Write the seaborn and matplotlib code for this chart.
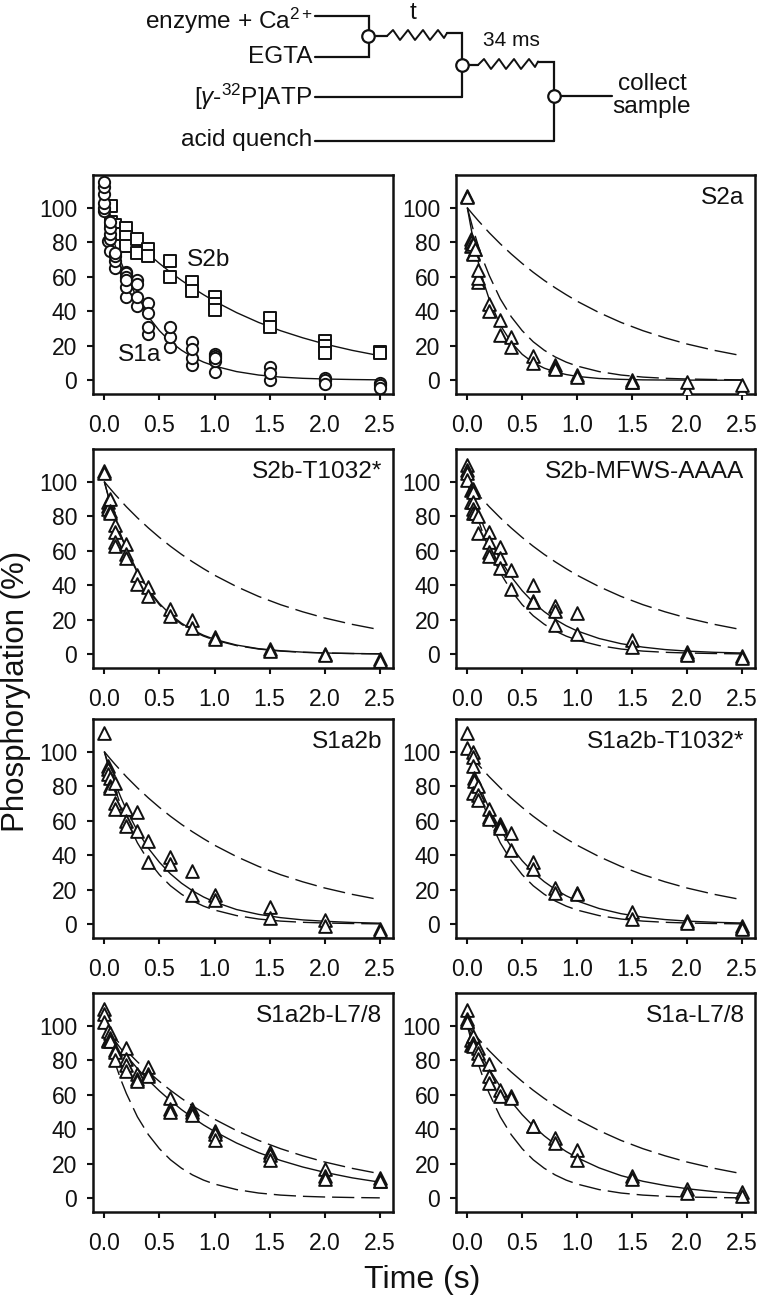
import numpy as np
import matplotlib
matplotlib.use("Agg")
import matplotlib.pyplot as plt
import seaborn as sns

sns.set_style("ticks")
plt.rcParams["font.family"] = ["Liberation Sans", "DejaVu Sans"]
plt.rcParams["mathtext.fontset"] = "custom"
plt.rcParams["mathtext.rm"] = "Liberation Sans"
plt.rcParams["mathtext.it"] = "Liberation Sans:italic"
plt.rcParams["mathtext.default"] = "regular"

# Curve read-off times and values
T = [0, .05, .1, .15, .2, .3, .4, .5, .6, .7, .8, .9, 1, 1.2, 1.4, 1.6, 1.8, 2, 2.25, 2.5]
C_S2B = [100, 96.2, 92.5, 89.0, 85.5, 79.1, 73.2, 67.7, 62.6, 57.9, 53.6, 49.6, 45.8, 39.2, 33.5, 28.7, 24.6, 21.0, 17.3, 14.2]
C_S1A = [100, 88.2, 77.9, 68.7, 60.7, 47.2, 36.8, 28.7, 22.3, 17.4, 13.5, 10.5, 8.2, 5.0, 3.0, 1.8, 1.1, 0.7, 0.4, 0.2]
C_S2A = [100, 82.7, 68.4, 56.6, 46.8, 32.0, 21.9, 15.0, 10.2, 7.0, 4.8, 3.3, 2.2, 1.0, 0.5, 0.2, 0.1, 0.05, 0, 0]
C_T1032 = [100, 88.4, 78.2, 69.2, 61.2, 47.9, 37.5, 29.4, 23.0, 18.0, 14.1, 11.0, 8.6, 5.3, 3.2, 2.0, 1.2, 0.7, 0.4, 0.2]
C_MFWS = [100, 90.5, 81.9, 74.1, 67.0, 54.9, 44.9, 36.8, 30.1, 24.7, 20.2, 16.5, 13.5, 9.1, 6.1, 4.1, 2.7, 1.8, 1.1, 0.7]
C_A2B = [100, 90.2, 81.4, 73.5, 66.4, 54.1, 44.0, 35.9, 29.2, 23.8, 19.4, 15.8, 12.9, 8.5, 5.7, 3.8, 2.5, 1.7, 1.0, 0.6]
C_A2BT = [100, 90.5, 81.9, 74.1, 67.0, 54.9, 44.9, 36.8, 30.1, 24.7, 20.2, 16.5, 13.5, 9.1, 6.1, 4.1, 2.7, 1.8, 1.1, 0.7]
C_A2BL = [100, 95.4, 90.9, 86.7, 82.7, 75.2, 68.4, 62.2, 56.6, 51.4, 46.8, 42.5, 38.7, 32.0, 26.4, 21.9, 18.1, 15.0, 11.8, 9.3]
C_S1AL = [100, 93.0, 86.5, 80.5, 74.8, 64.7, 56.0, 48.4, 41.9, 36.2, 31.3, 27.1, 23.5, 17.6, 13.1, 9.8, 7.4, 5.5, 3.8, 2.7]

# Measured points
S2B_X = [.06, .06, .1, .1, .2, .2, .2, .3, .3, .4, .4, .6, .6, .8, .8, 1, 1, 1, 1.5, 1.5, 2, 2, 2, 2.5, 2.5]
S2B_Y = [101, 92, 90, 85, 88, 83, 78, 82, 74, 76, 72, 69, 60, 57, 52, 48, 44, 41, 36, 31, 23, 20, 16, 16.5, 16]
S1A_X = [0, 0, 0, 0, 0, 0, .03, .05, .05, .05, .05, .05, .1, .1, .1, .1, .2, .2, .2, .2, .2, .2, .3, .3, .3, .3, .4, .4, .4, .4, .6, .6, .6, .8, .8, .8, .8, 1, 1, 1, 1, 1, 1.5, 1.5, 1.5, 2, 2, 2, 2.5, 2.5, 2.5]
S1A_Y = [98, 100, 103, 108, 112, 115, 81, 75, 82, 85, 88, 92, 65, 69, 72, 74, 48, 54, 63, 62, 60, 58, 43, 48, 58, 56, 27, 31, 45, 39, 19, 25, 31, 9, 13, 22, 18, 5, 11, 15, 14, 13, 0, 7.5, 4, 1, 0, -2, -1.5, -3, -4.5]
S2A_X = [0, 0, .03, .03, .03, .05, .05, .05, .07, .1, .1, .1, .2, .2, .3, .3, .4, .4, .6, .6, .8, .8, .8, 1, 1, 1.5, 1.5, 1.5, 2, 2, 2.5, 2.5]
S2A_Y = [107, 106, 82, 80, 78, 79, 74, 73, 76, 57, 59, 64, 44, 40, 35, 26, 25, 19, 14, 10, 9, 7, 6.5, 3, 2, 0, -1, -1, -6, -1, -6, -2.5]
T1032_X = [0, 0, .03, .03, .03, .05, .05, .05, .1, .1, .1, .1, .2, .2, .2, .3, .3, .4, .4, .6, .6, .8, .8, 1, 1, 1.5, 1.5, 2, 2, 2.5, 2.5]
T1032_Y = [106, 105, 88, 86, 84, 90, 83, 82, 75, 71, 65, 63, 64, 58, 56, 46, 41, 39, 34, 26, 22, 20, 15, 10, 9, 3, 2, 0, -0.5, -3, -4]
MFWS_X = [0, 0, 0, 0, .03, .03, .05, .05, .05, .05, .05, .07, .1, .1, .2, .2, .2, .2, .3, .3, .3, .4, .4, .6, .6, .6, .8, .8, .8, 1, 1, 1.5, 1.5, 2, 2, 2, 2.5, 2.5]
MFWS_Y = [110, 107, 105, 101, 95, 88, 96, 94, 88, 84, 82, 82, 80, 70, 71, 65, 59, 57, 62, 56, 50, 49, 38, 40, 31, 30, 28, 25, 17, 24, 12, 8.5, 4, 1.5, 0, -0.5, -1, -2]
A2B_X = [0, .03, .03, .03, .05, .05, .05, .1, .1, .1, .2, .2, .2, .3, .3, .4, .4, .6, .6, .8, .8, 1, 1, 1.5, 1.5, 2, 2, 2.5, 2.5]
A2B_Y = [111, 92, 90, 87, 85, 80, 79, 82, 70, 67, 67, 60, 57, 65, 54, 48, 36, 39, 35, 31, 17, 17, 14, 10, 3.5, 2.5, -1, -3, -4]
A2BT_X = [0, 0, .05, .05, .05, .06, .06, .05, .1, .1, .1, .2, .2, .2, .3, .3, .3, .4, .4, .6, .6, .8, .8, 1, 1, 1.5, 1.5, 2, 2, 2.5, 2.5, 2.5]
A2BT_Y = [111, 102, 100, 97, 92, 85, 83, 76, 80, 75, 72, 67, 62, 61, 58, 57, 56, 53, 43, 36, 32, 21, 18, 18, 17.5, 7, 3, 2, 0.5, -1, -2, -2.5]
A2BL_X = [0, 0, 0, .03, .03, .03, .05, .05, .05, .1, .1, .1, .2, .2, .2, .2, .3, .3, .3, .4, .4, .4, .6, .6, .6, .8, .8, .8, 1, 1, 1, 1.5, 1.5, 1.5, 2, 2, 2, 2.5, 2.5, 2.5]
A2BL_Y = [110, 107, 102, 97, 92, 91, 96, 93, 91, 86, 85, 80, 87, 81, 77, 74, 72, 69, 68, 76, 72, 71, 58, 52, 50, 52, 50, 48, 39, 37, 34, 27, 25, 22, 17, 13, 11, 12, 10, 10]
S1AL_X = [0, 0, 0, 0, .03, .03, .05, .05, .05, .1, .1, .1, .2, .2, .2, .3, .3, .4, .4, .6, .6, .8, .8, 1, 1, 1.5, 1.5, 2, 2, 2.5, 2.5]
S1AL_Y = [109, 104, 103, 102, 92, 89, 94, 90, 88, 87, 84, 81, 78, 71, 67, 63, 59, 59, 58, 42, 42, 35, 32, 28, 22, 13, 11, 5.5, 3, 3.5, 1]

XTICKS = [0, 0.5, 1.0, 1.5, 2.0, 2.5]
YTICKS = [0, 20, 40, 60, 80, 100]
W, H = 760, 1298
LEFT = [(93, 393), (456, 755)]
ROWS = [(175, 394), (449, 668), (719, 938), (993, 1212)]
DASH = (0, (16, 5))

PANELS = [
    (0, 0, "", C_S2B, None, None),
    (0, 1, "S2a", C_S2A, S2A_X, S2A_Y),
    (1, 0, "S2b-T1032*", C_T1032, T1032_X, T1032_Y),
    (1, 1, "S2b-MFWS-AAAA", C_MFWS, MFWS_X, MFWS_Y),
    (2, 0, "S1a2b", C_A2B, A2B_X, A2B_Y),
    (2, 1, "S1a2b-T1032*", C_A2BT, A2BT_X, A2BT_Y),
    (3, 0, "S1a2b-L7/8", C_A2BL, A2BL_X, A2BL_Y),
    (3, 1, "S1a-L7/8", C_S1AL, S1AL_X, S1AL_Y),
]

fig = plt.figure(figsize=(W / 100, H / 100), dpi=100)
INK = "#111111"
LABEL_SIZE = 17.6


def curve(ax, ys, dashed=False):
    sns.lineplot(x=T, y=ys, ax=ax, color=INK, linewidth=1.0, estimator=None,
                 sort=False, errorbar=None, legend=False, zorder=2)
    if dashed:
        ax.lines[-1].set_linestyle(DASH)


def points(ax, xs, ys, marker="^", s=84):
    sns.scatterplot(x=xs, y=ys, ax=ax, marker=marker, s=s, color="white",
                    edgecolor=INK, linewidth=1.4, legend=False, zorder=3)


for row, col, title, fit, px, py in PANELS:
    x0, x1 = LEFT[col]
    top, bot = ROWS[row]
    ax = fig.add_axes([x0 / W, 1 - bot / H, (x1 - x0) / W, (bot - top) / H])
    curve(ax, fit)
    if px is not None:
        curve(ax, C_S2B, dashed=True)
        curve(ax, C_S1A, dashed=True)
        points(ax, px, py)
        ax.text(0.965, 0.895, title, transform=ax.transAxes, ha="right", va="center",
                fontsize=LABEL_SIZE, color=INK, zorder=5)
    else:
        curve(ax, C_S1A)
        points(ax, S2B_X, S2B_Y, marker="s", s=66)
        points(ax, S1A_X, S1A_Y, marker="o", s=66)
        ax.text(0.75, 69.6, "S2b", fontsize=LABEL_SIZE, va="center", ha="left", color=INK)
        ax.text(0.124, 14.5, "S1a", fontsize=LABEL_SIZE, va="center", ha="left", color=INK)
    ax.set_xlim(-0.103, 2.62)
    ax.set_ylim(-8, 119)
    ax.set_xticks(XTICKS)
    ax.set_xticklabels([f"{v:.1f}" for v in XTICKS])
    ax.set_yticks(YTICKS)
    ax.tick_params(axis="x", length=4.5, width=1.5, pad=10, labelsize=16.5, colors=INK)
    ax.tick_params(axis="y", length=4.5, width=1.5, pad=7, labelsize=16.5, colors=INK)
    for sp in ax.spines.values():
        sp.set_linewidth(1.8)
        sp.set_color(INK)

# Overlay in pixel coordinates for the flow schematic and shared labels
ov = fig.add_axes([0, 0, 1, 1], facecolor="none")
ov.set_xlim(0, W)
ov.set_ylim(H, 0)
ov.axis("off")

ov.text(16, 691, "Phosphorylation (%)", rotation=90, fontsize=22.5, ha="center", va="center", color=INK)
ov.text(422, 1280, "Time (s)", fontsize=23, ha="center", va="center", color=INK)

WIRES = [
    ([315, 369, 369, 315], [16, 16, 57, 57]),
    ([376, 387], [36, 36]),
    ([447, 462, 462], [33, 33, 97]),
    ([315, 462], [97, 97]),
    ([469, 478], [65, 65]),
    ([538, 554, 554], [61.5, 61.5, 141]),
    ([315, 554], [141, 141]),
    ([561, 612], [96, 96]),
]
for wx, wy in WIRES:
    ov.plot(wx, wy, color=INK, lw=1.6, solid_joinstyle="miter", zorder=2)

SPRING_1 = ([387, 393, 400, 408, 415, 423, 430, 438, 444, 447], [36, 30, 40, 30, 40, 30, 40, 30, 38, 33])
SPRING_2 = ([478, 484, 491, 499, 506, 514, 521, 529, 535, 538], [65, 59, 69, 59, 69, 59, 69, 59, 67, 61.5])
for sx, sy in (SPRING_1, SPRING_2):
    ov.plot(sx, sy, color=INK, lw=1.4, zorder=2)

for cx, cy in [(368, 36), (462, 65), (554, 96)]:
    ov.plot([cx], [cy], marker="o", ms=9, mfc="white", mec=INK, mew=1.6, zorder=3)

SCHEME_SIZE = 17.6
ov.text(313, 21, "enzyme + Ca$^{2+}$", fontsize=SCHEME_SIZE, ha="right", va="center", color=INK)
ov.text(312, 57, "EGTA", fontsize=SCHEME_SIZE, ha="right", va="center", color=INK)
ov.text(312, 97, "[$\\mathit{γ}$-$^{32}$P]ATP", fontsize=SCHEME_SIZE, ha="right", va="center", color=INK)
ov.text(312, 140, "acid quench", fontsize=SCHEME_SIZE, ha="right", va="center", color=INK)
ov.text(413, 2, "t", fontsize=SCHEME_SIZE, ha="center", va="top", color=INK)
ov.text(511, 41, "34 ms", fontsize=15, ha="center", va="center", color=INK)
ov.text(652, 84, "collect", fontsize=SCHEME_SIZE, ha="center", va="center", color=INK)
ov.text(652, 107, "sample", fontsize=SCHEME_SIZE, ha="center", va="center", color=INK)

fig.savefig("out.png", dpi=100, facecolor="white")
